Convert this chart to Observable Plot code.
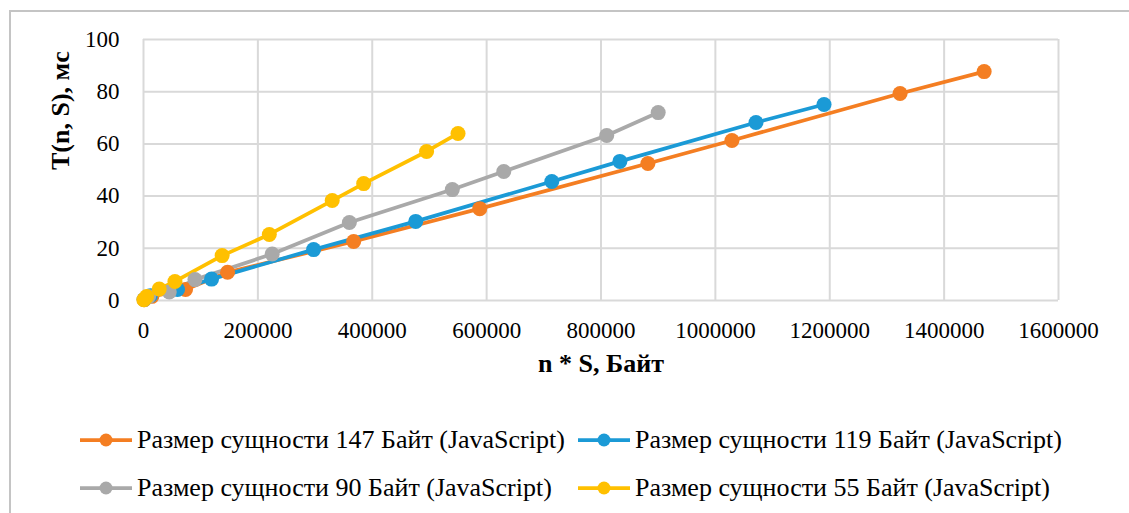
<!DOCTYPE html>
<html>
<head>
<meta charset="utf-8">
<script src="https://cdn.jsdelivr.net/npm/d3@7"></script>
<script src="https://cdn.jsdelivr.net/npm/@observablehq/plot@0.6"></script>
<style>
  html, body { margin: 0; padding: 0; background: #fff; }
  #wrap { position: relative; width: 1129px; height: 513px; overflow: hidden; font-family: "Liberation Serif", "Times New Roman", serif; }
  #frame { position: absolute; left: 9px; top: 10px; width: 1200px; height: 600px; border: 2px solid #c4c4c4; box-sizing: border-box; }
  #chart { position: absolute; left: 0; top: 0; }
  #chart svg text { font-family: "Liberation Serif", "Times New Roman", serif; }
  .leg { position: absolute; display: flex; align-items: center; font-size: 26px; color: #000; white-space: nowrap; }
  .leg svg { margin-right: 5px; }
</style>
</head>
<body>
<div id="wrap">
  <div id="frame"></div>
  <div id="chart"></div>
  <div id="legend"></div>
</div>
<script>
// Series names
const seriesNames = [
  "Размер сущности 147 Байт (JavaScript)",
  "Размер сущности 119 Байт (JavaScript)",
  "Размер сущности 90 Байт (JavaScript)",
  "Размер сущности 55 Байт (JavaScript)"
];
const seriesColors = ["#F47E22", "#1B9AD6", "#A9A9A9", "#FFC000"];

// x = n * S (bytes), y = T(n, S) (ms)
const x147 = [1470, 14700, 73500, 147000, 367500, 588000, 882000, 1029000, 1323000, 1470000];
const y147 = [0.3, 1.6, 4.2, 10.8, 22.6, 35.2, 52.5, 61.3, 79.3, 87.7];

const x119 = [1190, 11900, 59500, 119000, 297500, 476000, 714000, 833000, 1071000, 1190000];
const y119 = [0.4, 1.8, 4.2, 8.2, 19.5, 30.3, 45.6, 53.3, 68.2, 75.1];

const x90 = [900, 9000, 45000, 90000, 225000, 360000, 540000, 630000, 810000, 900000];
const y90 = [0.4, 1.5, 3.3, 8.0, 17.8, 29.9, 42.5, 49.4, 63.2, 72.0];

const x55 = [550, 5500, 27500, 55000, 137500, 220000, 330000, 385000, 495000, 550000];
const y55 = [0.3, 1.5, 4.4, 7.3, 17.2, 25.3, 38.3, 44.8, 57.1, 64.0];

const xTicks = [0, 200000, 400000, 600000, 800000, 1000000, 1200000, 1400000, 1600000];
const yTicks = [0, 20, 40, 60, 80, 100];
const xTitle = "n * S, Байт";
const yTitle = "T(n, S), мс";

const xs = [x147, x119, x90, x55];
const ys = [y147, y119, y90, y55];
const data = [];
seriesNames.forEach((name, i) => {
  xs[i].forEach((xv, j) => data.push({series: name, x: xv, y: ys[i][j]}));
});

const H = 410;
const chart = Plot.plot({
  width: 1129,
  height: H,
  marginLeft: 143,
  marginRight: 71,
  marginTop: 39,
  marginBottom: H - 300,
  style: { fontFamily: "Liberation Serif, Times New Roman, serif", fontSize: "23px", color: "#000", background: "transparent" },
  x: { domain: [0, 1600000] },
  y: { domain: [0, 100] },
  color: { domain: seriesNames, range: seriesColors },
  marks: [
    Plot.gridX(xTicks, { stroke: "#d9d9d9", strokeOpacity: 1, strokeWidth: 2 }),
    Plot.gridY(yTicks, { stroke: "#d9d9d9", strokeOpacity: 1, strokeWidth: 2 }),
    Plot.axisX(xTicks, { tickSize: 0, tickPadding: 21, tickFormat: d => String(d), label: null, fontSize: 23 }),
    Plot.axisY(yTicks, { tickSize: 0, tickPadding: 24, tickFormat: d => String(d), label: null, fontSize: 23 }),
    Plot.line(data, { x: "x", y: "y", z: "series", stroke: "series", strokeWidth: 3.75 }),
    Plot.dot(data, { x: "x", y: "y", fill: "series", r: 7.5 }),
    Plot.text([xTitle], { frameAnchor: "bottom", dy: 71, text: d => d, fontWeight: "bold", fontSize: 26 }),
    Plot.text([yTitle], { frameAnchor: "left", dx: -83, rotate: -90, text: d => d, fontWeight: "bold", fontSize: 26 })
  ]
});
document.getElementById("chart").appendChild(chart);

// Legend (HTML below the SVG)
const legend = document.getElementById("legend");
const pos = [[80, 440], [578, 440], [80, 488], [578, 488]];
seriesNames.forEach((name, i) => {
  const d = document.createElement("div");
  d.className = "leg";
  d.style.left = pos[i][0] + "px";
  d.style.top = (pos[i][1] - 16) + "px";
  d.style.height = "32px";
  const c = seriesColors[i];
  d.innerHTML = `<svg width="52" height="14"><line x1="0" y1="7" x2="52" y2="7" stroke="${c}" stroke-width="3.75"/><circle cx="26" cy="7" r="6.5" fill="${c}"/></svg><span>${name}</span>`;
  legend.appendChild(d);
});
</script>
</body>
</html>
